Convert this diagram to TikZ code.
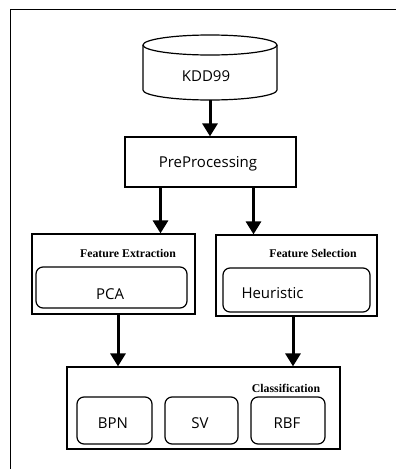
\documentclass[tikz,border=0pt]{standalone}
\usepackage{fontspec}
\setmainfont{Open Sans}
\newfontfamily\headfont{Liberation Serif}
\usetikzlibrary{arrows.meta}

\begin{document}
\begin{tikzpicture}[x=1pt,y=-1pt,
  box/.style={draw, line width=1.2pt, inner sep=0pt},
  inbox/.style={box, rounded corners=7pt},
  lab/.style={inner sep=0pt, font=\fontsize{15}{18}\selectfont},
  heading/.style={inner sep=0pt, font=\headfont\bfseries\fontsize{11.8}{14}\selectfont},
  arr/.style={line width=3pt, -{Triangle[length=13pt,width=15pt]}}]

\useasboundingbox (0,0) rectangle (396,469);

% outer frame (open on the right and at the bottom)
\draw[line width=1.5pt] (396,9.5) -- (10.5,9.5) -- (10.5,469);

% database cylinder
\node[inner sep=0pt, minimum width=134pt, minimum height=55pt] (db) at (210,72.5) {};
\draw[line width=1.2pt, fill=white]
  (143,45) -- (143,90) arc[start angle=180, end angle=360, x radius=67pt, y radius=10pt]
  -- (277,45);
\draw[line width=1.2pt] (210,45) ellipse[x radius=67pt, y radius=10pt];
\node[lab] (kddtxt) at (206,76) {KDD99};

% preprocessing
\node[box, minimum width=171pt, minimum height=50pt] (pre) at (210.5,162) {};
\node[lab] (pretxt) at (208,164) {PreProcessing};

% feature extraction
\node[box, minimum width=163pt, minimum height=80pt] (fe) at (113.5,274) {};
\node[heading] (fetxt) at (128,253) {Feature Extraction};
\node[inbox, minimum width=151pt, minimum height=41pt] (pca) at (111.5,287.5) {};
\node[lab] (pcatxt) at (110,294.5) {PCA};

% feature selection
\node[box, minimum width=161pt, minimum height=81pt] (fs) at (296.5,275.5) {};
\node[heading] (fstxt) at (313,253) {Feature Selection};
\node[inbox, minimum width=147pt, minimum height=44pt] (heu) at (296.5,290) {};
\node[lab] (heutxt) at (272.5,293) {Heuristic};

% classification
\node[box, minimum width=273pt, minimum height=82pt] (cls) at (203.5,408) {};
\node[heading] (clstxt) at (286,388) {Classification};
\node[inbox, minimum width=75pt, minimum height=47pt] (bpn) at (114.5,420.5) {};
\node[lab] (bpntxt) at (113,423) {BPN};
\node[inbox, minimum width=73pt, minimum height=47pt] (sv) at (201.5,420.5) {};
\node[lab] (svtxt) at (200,423) {SV};
\node[inbox, minimum width=74pt, minimum height=47pt] (rbf) at (288,420.5) {};
\node[lab] (rbftxt) at (287,423) {RBF};

% flow arrows
\draw[arr] (db.south) -- (db.south |- pre.north);
\draw[arr] ([xshift=-50pt]pre.south) -- ([xshift=-50pt]pre.south |- fe.north);
\draw[arr] ([xshift=43pt]pre.south) -- ([xshift=43pt]pre.south |- fs.north);
\draw[arr] ([xshift=4.5pt]fe.south) -- ([xshift=4.5pt]fe.south |- cls.north);
\draw[arr] ([xshift=-3.5pt]fs.south) -- ([xshift=-3.5pt]fs.south |- cls.north);
\end{tikzpicture}
\end{document}
